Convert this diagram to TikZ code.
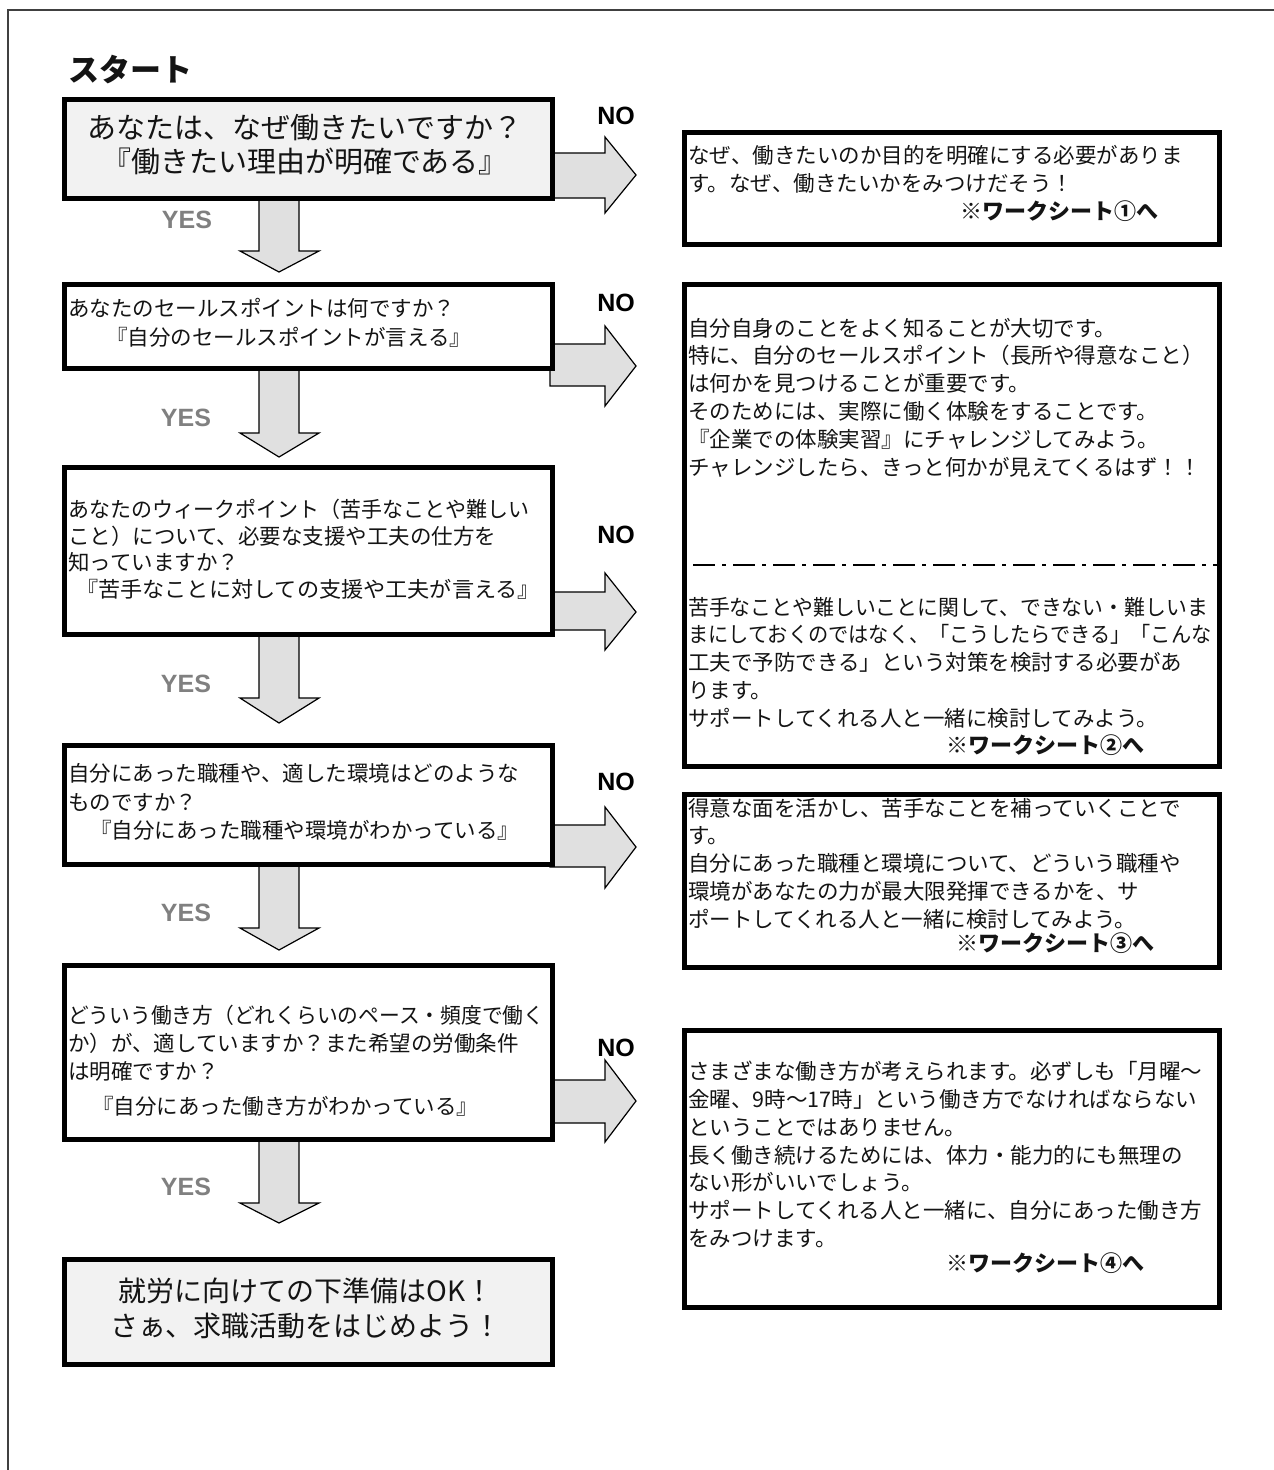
\documentclass[tikz,border=0pt]{standalone}
\usepackage{fontspec}
\usepackage{graphicx}
\setmainfont{Noto Sans CJK JP}
\newfontfamily\latf{Liberation Sans}
\definecolor{arrowgray}{HTML}{E0E0E0}
\definecolor{boxgray}{HTML}{F2F2F2}
\definecolor{yesgray}{HTML}{808080}
\definecolor{ink}{HTML}{141414}
\newcommand\myrarrow[5]{\draw[blk] (550,#1) -- (605,#1) -- (605,#3) -- (636,#5) -- (605,#4) -- (605,#2) -- (550,#2) -- cycle;}
\newcommand\mydarrow[3]{\draw[blk] (259,#1) -- (259,#2) -- (240,#2) -- (279,#3) -- (319,#2) -- (299,#2) -- (299,#1) -- cycle;}
\newcommand\hsq[2]{\scalebox{#1}[1]{#2}}
\begin{document}
\begin{tikzpicture}[x=1pt,y=-1pt,
  qbox/.style={draw=black, line width=4.5pt, fill=white, inner sep=0pt, anchor=north west},
  gbox/.style={qbox, fill=boxgray},
  blk/.style={draw=black, line width=1.2pt, fill=arrowgray, line join=miter},
  txt/.style={inner sep=0pt, align=left, anchor=west, text=ink, font=\fontsize{21.5}{27.8}\selectfont},
  bigtxt/.style={inner sep=0pt, align=center, text=ink},
  wsheet/.style={inner sep=0pt, anchor=west, text=ink, font=\fontsize{22}{26}\selectfont\bfseries},
  nolab/.style={inner sep=0pt, text=black, font=\latf\bfseries\fontsize{25}{28}\selectfont},
  yeslab/.style={nolab, text=yesgray},
  frame/.style={draw=black!75, line width=2pt},
]
\useasboundingbox (0,0) rectangle (1274,1470);
\fill[white] (0,0) rectangle (1274,1470);
\draw[frame] (8,1470) -- (8,10) -- (1274,10);

% block arrows (drawn first, boxes cover their roots)
\myrarrow{153}{198}{137}{213}{175}
\myrarrow{344}{386}{326}{406}{366}
\myrarrow{592}{630}{573}{650}{612}
\myrarrow{825}{867}{807}{888}{847}
\myrarrow{1080}{1123}{1060}{1142}{1101}
\mydarrow{196}{251}{272}
\mydarrow{366}{433}{457}
\mydarrow{632}{698}{723}
\mydarrow{862}{928}{950}
\mydarrow{1137}{1203}{1223}

% left boxes
\node[gbox, minimum width=488pt, minimum height=99pt] (L1) at (62,97) {};
\node[qbox, minimum width=488pt, minimum height=84pt] (L2) at (62,282) {};
\node[qbox, minimum width=488pt, minimum height=167pt] (L3) at (62,465) {};
\node[qbox, minimum width=488pt, minimum height=119pt] (L4) at (62,743) {};
\node[qbox, minimum width=488pt, minimum height=174pt] (L5) at (62,963) {};
\node[gbox, minimum width=488pt, minimum height=105pt] (L6) at (62,1257) {};
% right boxes
\node[qbox, minimum width=535pt, minimum height=112pt] (R1) at (682,130) {};
\node[qbox, minimum width=535pt, minimum height=482pt] (R2) at (682,282) {};
\node[qbox, minimum width=535pt, minimum height=173pt] (R3) at (682,792) {};
\node[qbox, minimum width=535pt, minimum height=277pt] (R4) at (682,1028) {};
\draw[line width=2.8pt, dash pattern=on 4pt off 7pt on 22pt off 7pt] (R2.west |- 0,565) -- (R2.east |- 0,565);

% title
\node[inner sep=0pt, text=ink, font=\fontsize{31}{34}\selectfont\bfseries] (title) at (130,70) {スタート};

% labels
\node[nolab] (no1) at (616,116) {NO};
\node[nolab] (no2) at (616,303) {NO};
\node[nolab] (no3) at (616,535) {NO};
\node[nolab] (no4) at (616,782) {NO};
\node[nolab] (no5) at (616,1048) {NO};
\node[yeslab] (yes1) at (187,220) {YES};
\node[yeslab] (yes2) at (186,418) {YES};
\node[yeslab] (yes3) at (186,684) {YES};
\node[yeslab] (yes4) at (186,913) {YES};
\node[yeslab] (yes5) at (186,1187) {YES};

% left texts
\node[bigtxt, font=\fontsize{29}{34}\selectfont] (t1) at (305,145) {あなたは、なぜ働きたいですか？\\『働きたい理由が明確である』};
\node[txt, font=\fontsize{21.5}{29}\selectfont] (t2) at (68,322.5) {あなたのセールスポイントは何ですか？\\\hspace*{38pt}『自分のセールスポイントが言える』};
\node[txt, font=\fontsize{21.5}{26.5}\selectfont] (t3) at (68,549) {\hsq{0.975}{あなたのウィークポイント（苦手なことや難しい}\\こと）について、必要な支援や工夫の仕方を\\知っていますか？\\\hspace*{8pt}\hsq{1.03}{『苦手なことに対しての支援や工夫が言える』}};
\node[txt, font=\fontsize{21.5}{28.5}\selectfont] (t4) at (68,802) {自分にあった職種や、適した環境はどのような\\ものですか？\\\hspace*{22pt}『自分にあった職種や環境がわかっている』};
\node[txt] (t5) at (68,1061) {\hsq{0.965}{どういう働き方（どれくらいのペース・頻度で働く}\\か）が、適していますか？また希望の労働条件\\は明確ですか？\\[8pt]\hspace*{24pt}『自分にあった働き方がわかっている』};
\node[bigtxt, font=\fontsize{28}{35}\selectfont] (t6) at (306,1308) {就労に向けての下準備はOK！\\さぁ、求職活動をはじめよう！};

% right texts
\node[txt] (r1) at (688,169) {なぜ、働きたいのか目的を明確にする必要がありま\\す。なぜ、働きたいかをみつけだそう！};
\node[wsheet] (w1) at (960,211) {※ワークシート①へ};
\node[txt] (r2a) at (688,397.5) {自分自身のことをよく知ることが大切です。\\特に、自分のセールスポイント（長所や得意なこと）\\は何かを見つけることが重要です。\\そのためには、実際に働く体験をすることです。\\『企業での体験実習』にチャレンジしてみよう。\\チャレンジしたら、きっと何かが見えてくるはず！！};
\node[txt] (r2b) at (688,662.5) {\hsq{0.97}{苦手なことや難しいことに関して、できない・難しいま}\\\hsq{0.94}{まにしておくのではなく、「こうしたらできる」「こんな}\\工夫で予防できる」という対策を検討する必要があ\\ります。\\サポートしてくれる人と一緒に検討してみよう。};
\node[wsheet] (w2) at (946,745) {※ワークシート②へ};
\node[txt] (r3) at (688,863.5) {得意な面を活かし、苦手なことを補っていくことで\\す。\\自分にあった職種と環境について、どういう職種や\\環境があなたの力が最大限発揮できるかを、サ\\ポートしてくれる人と一緒に検討してみよう。};
\node[wsheet] (w3) at (956,943) {※ワークシート③へ};
\node[txt] (r4) at (688,1154.5) {さまざまな働き方が考えられます。必ずしも「月曜～\\金曜、9時～17時」という働き方でなければならない\\ということではありません。\\長く働き続けるためには、体力・能力的にも無理の\\ない形がいいでしょう。\\サポートしてくれる人と一緒に、自分にあった働き方\\をみつけます。};
\node[wsheet] (w4) at (946,1263) {※ワークシート④へ};
\end{tikzpicture}
\end{document}
